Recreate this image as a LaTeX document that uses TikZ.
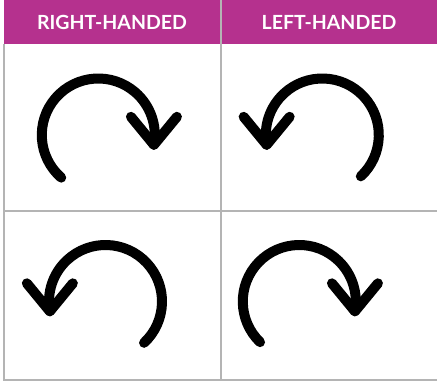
\documentclass[tikz,border=0pt]{standalone}
\usepackage{fontspec}
\usepackage{tikz}
\newfontfamily\headfont{Lato}

\definecolor{headmagenta}{HTML}{B5318E}
\definecolor{gridgray}{HTML}{B4B4B4}

\tikzset{
  gridline/.style={draw=gridgray, line width=1.2pt},
  headtext/.style={text=white, font=\headfont\bfseries\fontsize{19.5}{21}\selectfont, inner sep=0pt},
  turn/.style={line width=10pt, line cap=round, line join=round}
}

\begin{document}
\begin{tikzpicture}[x=1pt, y=1pt]
    \useasboundingbox (0,0) rectangle (437,381);

    % header bar
    \fill[headmagenta] (4,337) rectangle (437,381);
    \node[headtext] (rightHead) at (112,358.5) {RIGHT-HANDED};
    \node[headtext] (leftHead) at (329,358.5) {LEFT-HANDED};

    % table lines
    \draw[gridline] (4,337) -- (4,1) -- (437,1);
    \draw[gridline] (4,170) -- (437,170);
    \draw[gridline] (221,381) -- (221,1);

    % top left: clockwise
    \draw[turn] (98.3,246) ++(229:56.5) arc[start angle=229, end angle=-10, radius=56.5] coordinate (tlTip);
    \draw[turn] (tlTip) ++(-23,28) -- (tlTip) -- ++(23,28);

    % top right: counterclockwise
    \draw[turn] (322.3,246) ++(-47:56.5) arc[start angle=-47, end angle=190, radius=56.5] coordinate (trTip);
    \draw[turn] (trTip) ++(-23,28) -- (trTip) -- ++(23,28);

    % bottom left: counterclockwise
    \draw[turn] (105.5,79.5) ++(-47:56.5) arc[start angle=-47, end angle=190, radius=56.5] coordinate (blTip);
    \draw[turn] (blTip) ++(-23,28) -- (blTip) -- ++(23,28);

    % bottom right: clockwise
    \draw[turn] (299.3,79.5) ++(226:56.5) arc[start angle=226, end angle=-10, radius=56.5] coordinate (brTip);
    \draw[turn] (brTip) ++(-23,28) -- (brTip) -- ++(23,28);
  \end{tikzpicture}
\end{document}
